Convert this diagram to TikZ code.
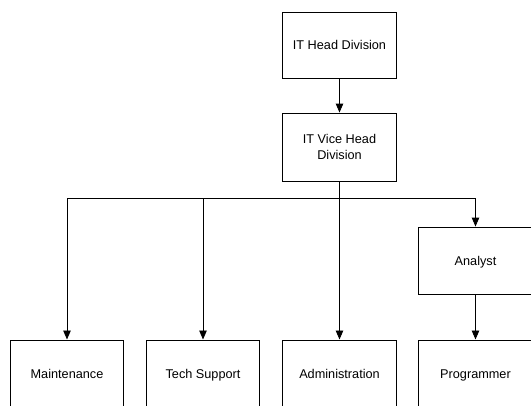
\documentclass[tikz,border=0pt]{standalone}
\usepackage{fontspec}
\setmainfont{Liberation Sans}
\usetikzlibrary{arrows.meta}
\begin{document}
\begin{tikzpicture}[x=1pt,y=-1pt,
  box/.style={draw=black,line width=0.9pt,rectangle,minimum width=113.5pt,inner sep=0pt,
    align=center,font=\fontsize{12.7}{16.3}\selectfont},
  one/.style={box,text height=9.1pt,text depth=0pt},
  arr/.style={draw=black,line width=0.9pt,-{Triangle[width=7.5pt,length=9pt]}}]
\useasboundingbox (0,0) rectangle (531,405);
\clip (0,0) rectangle (531,405);
\node[one,minimum height=66pt] (head) at (339.5,45) {IT Head Division};
\node[box,minimum height=68pt] (vice) at (339.5,147) {IT Vice Head\\Division};
\node[one,minimum height=67pt] (analyst) at (475.5,260.5) {Analyst};
\node[one,minimum height=67.5pt] (maint) at (67,373.7) {Maintenance};
\node[one,minimum height=67.5pt] (tech) at (203,373.7) {Tech Support};
\node[one,minimum height=67.5pt] (admin) at (339.5,373.7) {Administration};
\node[one,minimum height=67.5pt] (prog) at (475.5,373.7) {Programmer};
\coordinate (j) at (339.5,198);
\draw[arr] (head.south) -- (vice.north);
\draw[arr] (vice.south) -- (admin.north);
\draw[arr] (j) -| (maint.north);
\draw[arr] (j) -| (tech.north);
\draw[arr] (j) -| (analyst.north);
\draw[arr] (analyst.south) -- (prog.north);
\end{tikzpicture}
\end{document}
